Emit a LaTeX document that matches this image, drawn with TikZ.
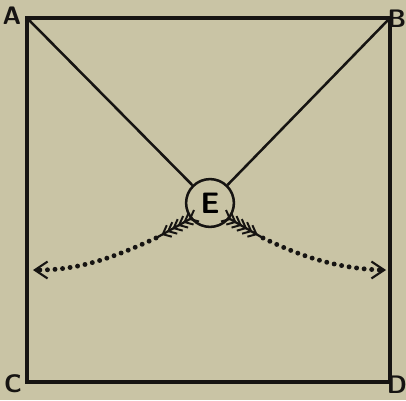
\documentclass[tikz,border=0pt]{standalone}
\usetikzlibrary{calc,arrows.meta}
\definecolor{paper}{RGB}{201,196,165}
\definecolor{ink}{RGB}{22,20,18}
\tikzset{
  frame/.style={ink,line width=2.6pt},
  guy/.style={ink,line width=1.8pt},
  corner/.style={ink,inner sep=0pt,font=\fontsize{18}{18}\selectfont\sffamily\bfseries},
  path of ball/.style={ink,line width=3.5pt,line cap=round,dash pattern=on 0pt off 5.4pt},
  feather/.style={ink,line width=1.4pt},
}
\begin{document}
\begin{tikzpicture}[x=0.025cm,y=-0.025cm]
  \useasboundingbox[fill=paper] (0,0) rectangle (406,400);

  % corners of the field
  \coordinate (A) at (27,18);
  \coordinate (B) at (390,18);
  \coordinate (C) at (27,382);
  \coordinate (D) at (390,382);
  \node[corner] (labA) at (12,16) {A};
  \node[corner] (labB) at (397,19) {B};
  \node[corner] (labC) at (13,384) {C};
  \node[corner] (labD) at (397,385) {D};
  \draw[frame] (A) -- (B) -- (D) -- (C) -- cycle;

  % the centre
  \node[draw=ink,line width=1.8pt,circle,minimum size=34pt,inner sep=0pt,
        font=\fontsize{21}{21}\selectfont\sffamily\bfseries] (E) at (210,203) {E};
  \draw[guy] (A) -- (E);
  \draw[guy] (B) -- (E);

  % left flight
  \coordinate (LS) at (190,219);
  \coordinate (LE) at (156,238);
  \coordinate (Ltip) at (33,270);
  \draw[ink,line width=1.6pt] (LS) -- (LE);
  \foreach \t in {0,0.16,0.32,0.48,0.64,0.8}
    \draw[feather] ($(LS)!\t!(LE)$) +(9,2.5) -- +(0,0) -- +(4,-9);
  \draw[path of ball] (LE) .. controls (115,257) and (80,270) .. ($(Ltip)+(6,0)$);
  \draw[ink,line width=1.5pt,-{Straight Barb[length=9pt,width=12pt]}] ($(Ltip)+(8,0)$) -- (Ltip);

  % right flight
  \coordinate (RS) at (230,219);
  \coordinate (RE) at (263,238);
  \coordinate (Rtip) at (386,270);
  \draw[ink,line width=1.6pt] (RS) -- (RE);
  \foreach \t in {0,0.16,0.32,0.48,0.64,0.8}
    \draw[feather] ($(RS)!\t!(RE)$) +(-4,-9) -- +(0,0) -- +(-9,2.5);
  \draw[path of ball] (RE) .. controls (300,256) and (335,268) .. ($(Rtip)+(-6,0)$);
  \draw[ink,line width=1.5pt,-{Straight Barb[length=9pt,width=12pt]}] ($(Rtip)+(-8,0)$) -- (Rtip);
\end{tikzpicture}
\end{document}
